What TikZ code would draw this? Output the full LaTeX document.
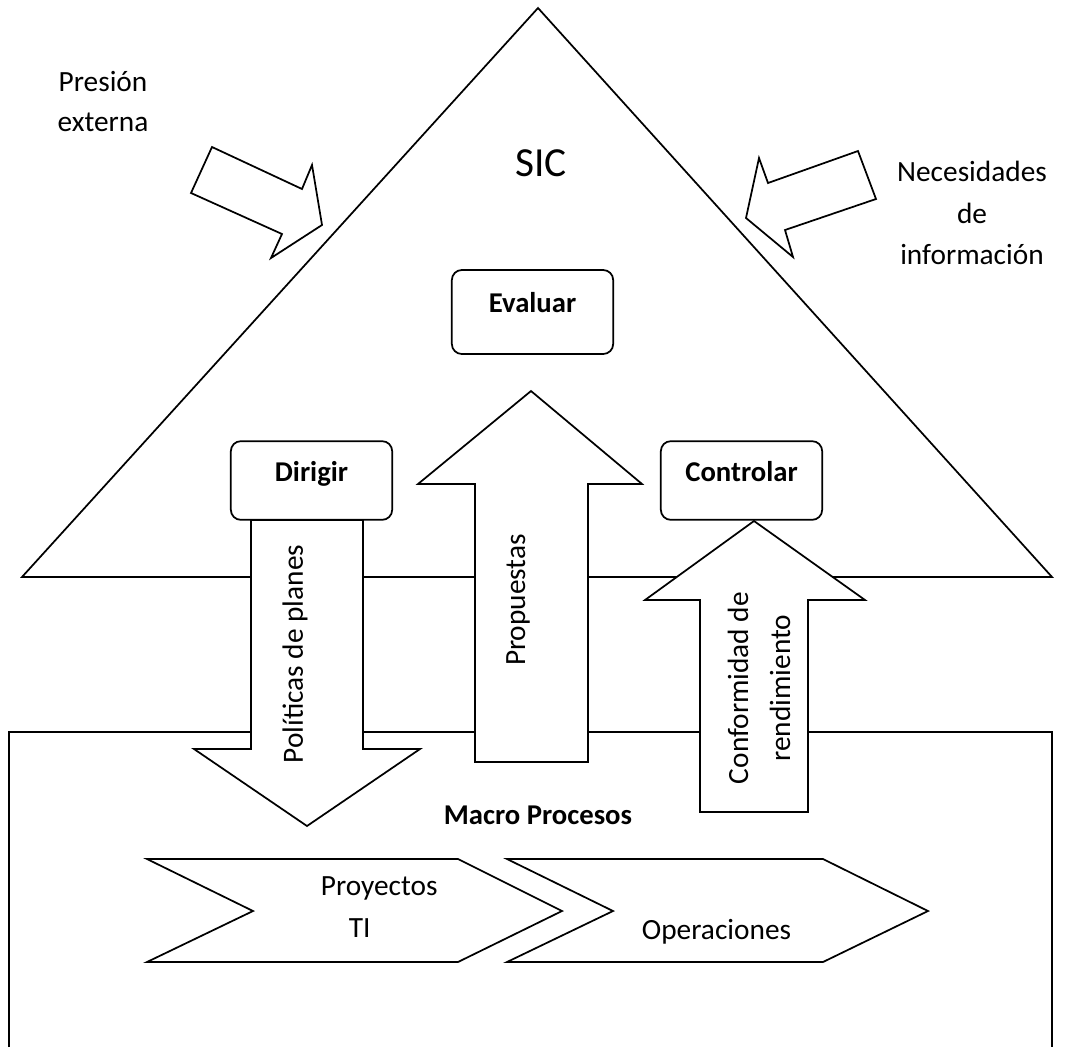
\documentclass[tikz,border=0pt]{standalone}
\usepackage{fontspec}
\setmainfont{Carlito}
\usepackage{xcolor}
\usepackage{tikz}
\definecolor{SICInk}{HTML}{000000}

\begin{document}
\begin{tikzpicture}[x=0.75pt,y=-0.75pt,line width=1.3pt,SICInk,
  txt/.style={font=\fontsize{22}{30}\selectfont,align=center,inner sep=0pt},
  stage/.style={draw,rounded corners=7.5pt,fill=white,font=\fontsize{21.5}{24}\selectfont\bfseries,
    minimum width=121pt,minimum height=59pt,inner sep=0pt,text height=10pt,text depth=9pt},
  blockarrow/.style={draw,fill=white,line join=miter}]
\path[use as bounding box] (0,0) rectangle (1066,1047);
\draw (9,1047) -- (9,732) -- (1052,732) -- (1052,1047);
\draw (22,577) -- (538,8) -- (1052,577) -- cycle;
\draw[blockarrow] (212,147) -- (302,189) -- (312,165) -- (322,225) -- (271,258) -- (282,234) -- (191,193) -- cycle;
\draw[blockarrow] (858,151) -- (876,199) -- (785,230) -- (793,257) -- (746,218) -- (759,158) -- (768,183) -- cycle;
\draw[blockarrow] (251,520) -- (363,520) -- (363,749) -- (420,749) -- (307,826) -- (194,749) -- (251,749) -- cycle;
\draw[blockarrow] (475,762) -- (475,484) -- (418,484) -- (531,391) -- (642,484) -- (588,484) -- (588,762) -- cycle;
\draw[blockarrow] (700,812) -- (700,600) -- (645,600) -- (754,521) -- (865,600) -- (808,600) -- (808,812) -- cycle;
\draw[blockarrow] (147,859) -- (458,859) -- (562,911) -- (458,962) -- (147,962) -- (253,911) -- cycle;
\draw[blockarrow] (507,859) -- (823,859) -- (928,911) -- (823,962) -- (507,962) -- (613,911) -- cycle;
\node[txt] (presion) at (103,102) {Presión\\externa};
\node[font=\fontsize{31}{36}\selectfont,inner sep=0pt] (sic) at (541,163) {SIC};
\node[txt,font=\fontsize{22}{31}\selectfont] (necesidades) at (972,213) {Necesidades\\de\\información};
\node[stage,minimum height=63pt] (evaluar) at (532.5,312) {Evaluar};
\node[stage] (dirigir) at (311.5,480.5) {Dirigir};
\node[stage] (controlar) at (741.5,480.5) {Controlar};
\node[txt,rotate=90] (politicas) at (295,654) {Políticas de planes};
\node[txt,rotate=90] (propuestas) at (518,600) {Propuestas};
\node[txt,rotate=90,font=\fontsize{22}{31.5}\selectfont] (conformidad) at (759,688) {Conformidad de\\rendimiento};
\node[txt,font=\fontsize{21.5}{24}\selectfont\bfseries] (macro) at (538,815) {Macro Procesos};
\node[txt,anchor=west,align=left,font=\fontsize{22}{32}\selectfont] (proyectos) at (320,907) {Proyectos\\\hspace*{21pt}TI};
\node[txt] (operaciones) at (716.5,932) {Operaciones};
\end{tikzpicture}
\end{document}
